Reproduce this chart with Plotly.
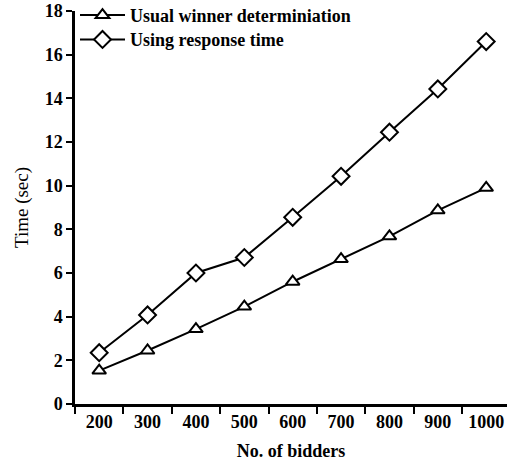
import plotly.graph_objects as go

bidders = ["200", "300", "400", "500", "600", "700", "800", "900", "1000"]
usual = [1.53, 2.45, 3.43, 4.46, 5.6, 6.64, 7.68, 8.87, 9.9]
response = [2.35, 4.08, 6.0, 6.71, 8.55, 10.43, 12.45, 14.43, 16.6]
y_ticks = [0, 2, 4, 6, 8, 10, 12, 14, 16, 18]

FONT = "Liberation Serif"

fig = go.Figure()
fig.add_trace(go.Scatter(
    x=bidders, y=usual, mode="lines+markers", name="Usual winner determiniation",
    line=dict(color="black", width=2),
    marker=dict(symbol="triangle-up", size=12, color="white",
                line=dict(color="black", width=2)),
    legend="legend",
))
fig.add_trace(go.Scatter(
    x=bidders, y=response, mode="lines+markers", name="Using response time",
    line=dict(color="black", width=2),
    marker=dict(symbol="diamond", size=13, color="white",
                line=dict(color="black", width=2)),
    legend="legend2",
))

leg_common = dict(xanchor="left", yanchor="top", bgcolor="rgba(0,0,0,0)",
                  font=dict(family=FONT, size=18, weight="bold", color="black"),
                  itemwidth=45)

fig.update_layout(
    template="none",
    width=507, height=464,
    margin=dict(l=75, r=0, t=11, b=60, autoexpand=False),
    plot_bgcolor="white", paper_bgcolor="white",
    font=dict(family=FONT, color="black", size=16),
    showlegend=True,
    legend=dict(x=0.0, y=1.036, **leg_common),
    legend2=dict(x=0.0, y=0.974, **leg_common),
    xaxis=dict(
        type="category", range=[-0.5, 8.43],
        showline=True, linecolor="black", linewidth=2.5,
        ticks="outside", ticklen=7, tickwidth=2, tickcolor="black",
        tickson="boundaries", showgrid=False, zeroline=False,
        tickfont=dict(family=FONT, size=18, weight="bold", color="black"),
        title=dict(text="No. of bidders",
                   font=dict(family=FONT, size=18, weight="bold", color="black"),
                   standoff=14),
    ),
    yaxis=dict(
        range=[0, 18], tickvals=y_ticks,
        showline=True, linecolor="black", linewidth=2.5,
        ticks="outside", ticklen=6, tickwidth=2, tickcolor="black",
        showgrid=False, zeroline=False,
        tickfont=dict(family=FONT, size=18, weight="bold", color="black"),
        title=dict(text="Time (sec)", font=dict(family=FONT, size=19, color="black"),
                   standoff=12),
    ),
)

fig.write_html("out.html")
